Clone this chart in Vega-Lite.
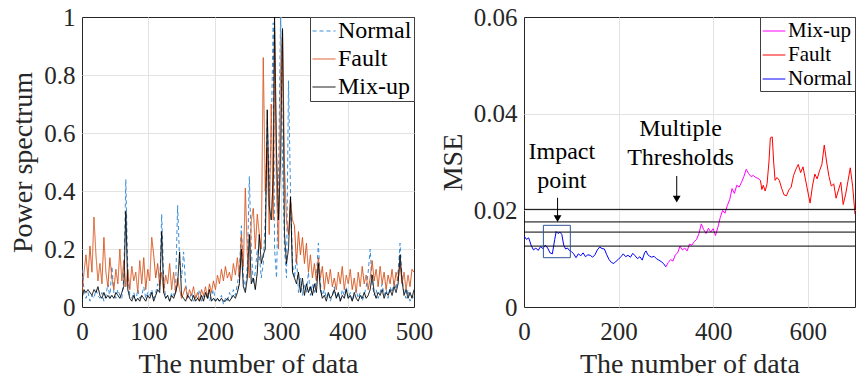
{
  "$schema": "https://vega.github.io/schema/vega-lite/v6.json",
  "background": "white",
  "padding": {"left": 9, "top": 4, "right": 0, "bottom": 0},
  "spacing": 4,
  "config": {
    "font": "Liberation Serif",
    "view": {"stroke": "#262626", "strokeWidth": 1},
    "axis": {
      "labelFont": "Liberation Serif",
      "titleFont": "Liberation Serif",
      "labelFontSize": 25,
      "titleFontSize": 28,
      "titleFontWeight": "normal",
      "labelColor": "#262626",
      "titleColor": "#262626",
      "domain": false,
      "ticks": false,
      "grid": true,
      "gridColor": "#e3e3e3",
      "gridWidth": 1,
      "labelFlush": false,
      "labelOverlap": false
    },
    "axisX": {"labelPadding": 12, "titlePadding": 6},
    "axisY": {"labelPadding": 7, "titlePadding": 6},
    "legend": {
      "labelFont": "Liberation Serif",
      "labelColor": "#000000",
      "strokeColor": "#404040",
      "fillColor": "white",
      "symbolType": "stroke",
      "symbolStrokeWidth": 1,
      "labelLimit": 300,
      "cornerRadius": 0
    }
  },
  "datasets": {
    "spec": [
      {"x":0,"Normal":0.13,"Fault":0.05,"Mix-up":0.03},
      {"x":3,"Normal":0.06,"Fault":0.12,"Mix-up":0.06},
      {"x":6,"Normal":0.03,"Fault":0.18,"Mix-up":0.05},
      {"x":9,"Normal":0.05,"Fault":0.10,"Mix-up":0.06},
      {"x":12,"Normal":0.02,"Fault":0.21,"Mix-up":0.05},
      {"x":15,"Normal":0.04,"Fault":0.12,"Mix-up":0.04},
      {"x":18,"Normal":0.03,"Fault":0.31,"Mix-up":0.06},
      {"x":21,"Normal":0.06,"Fault":0.18,"Mix-up":0.05},
      {"x":24,"Normal":0.04,"Fault":0.09,"Mix-up":0.07},
      {"x":27,"Normal":0.03,"Fault":0.15,"Mix-up":0.04},
      {"x":30,"Normal":0.05,"Fault":0.08,"Mix-up":0.03},
      {"x":33,"Normal":0.02,"Fault":0.24,"Mix-up":0.05},
      {"x":36,"Normal":0.04,"Fault":0.12,"Mix-up":0.03},
      {"x":39,"Normal":0.08,"Fault":0.07,"Mix-up":0.04},
      {"x":42,"Normal":0.03,"Fault":0.17,"Mix-up":0.03},
      {"x":45,"Normal":0.14,"Fault":0.10,"Mix-up":0.04},
      {"x":48,"Normal":0.05,"Fault":0.06,"Mix-up":0.03},
      {"x":51,"Normal":0.03,"Fault":0.13,"Mix-up":0.05},
      {"x":54,"Normal":0.06,"Fault":0.08,"Mix-up":0.04},
      {"x":57,"Normal":0.04,"Fault":0.20,"Mix-up":0.03},
      {"x":60,"Normal":0.03,"Fault":0.09,"Mix-up":0.05},
      {"x":63,"Normal":0.10,"Fault":0.16,"Mix-up":0.07},
      {"x":66,"Normal":0.44,"Fault":0.07,"Mix-up":0.33},
      {"x":69,"Normal":0.12,"Fault":0.13,"Mix-up":0.06},
      {"x":72,"Normal":0.04,"Fault":0.06,"Mix-up":0.03},
      {"x":75,"Normal":0.03,"Fault":0.14,"Mix-up":0.02},
      {"x":78,"Normal":0.05,"Fault":0.09,"Mix-up":0.04},
      {"x":81,"Normal":0.02,"Fault":0.12,"Mix-up":0.02},
      {"x":84,"Normal":0.06,"Fault":0.05,"Mix-up":0.03},
      {"x":87,"Normal":0.03,"Fault":0.16,"Mix-up":0.02},
      {"x":90,"Normal":0.04,"Fault":0.08,"Mix-up":0.04},
      {"x":93,"Normal":0.07,"Fault":0.17,"Mix-up":0.03},
      {"x":96,"Normal":0.03,"Fault":0.06,"Mix-up":0.02},
      {"x":99,"Normal":0.05,"Fault":0.13,"Mix-up":0.04},
      {"x":102,"Normal":0.04,"Fault":0.09,"Mix-up":0.03},
      {"x":105,"Normal":0.06,"Fault":0.24,"Mix-up":0.05},
      {"x":108,"Normal":0.03,"Fault":0.18,"Mix-up":0.02},
      {"x":111,"Normal":0.05,"Fault":0.10,"Mix-up":0.04},
      {"x":114,"Normal":0.08,"Fault":0.15,"Mix-up":0.06},
      {"x":117,"Normal":0.06,"Fault":0.07,"Mix-up":0.05},
      {"x":120,"Normal":0.32,"Fault":0.12,"Mix-up":0.26},
      {"x":123,"Normal":0.10,"Fault":0.05,"Mix-up":0.05},
      {"x":126,"Normal":0.03,"Fault":0.11,"Mix-up":0.03},
      {"x":129,"Normal":0.04,"Fault":0.08,"Mix-up":0.04},
      {"x":132,"Normal":0.02,"Fault":0.15,"Mix-up":0.02},
      {"x":135,"Normal":0.05,"Fault":0.06,"Mix-up":0.04},
      {"x":138,"Normal":0.04,"Fault":0.12,"Mix-up":0.03},
      {"x":141,"Normal":0.07,"Fault":0.05,"Mix-up":0.05},
      {"x":144,"Normal":0.35,"Fault":0.10,"Mix-up":0.08},
      {"x":147,"Normal":0.16,"Fault":0.06,"Mix-up":0.19},
      {"x":150,"Normal":0.10,"Fault":0.03,"Mix-up":0.04},
      {"x":153,"Normal":0.19,"Fault":0.05,"Mix-up":0.03},
      {"x":156,"Normal":0.08,"Fault":0.07,"Mix-up":0.02},
      {"x":159,"Normal":0.04,"Fault":0.03,"Mix-up":0.04},
      {"x":162,"Normal":0.03,"Fault":0.06,"Mix-up":0.03},
      {"x":165,"Normal":0.05,"Fault":0.04,"Mix-up":0.02},
      {"x":168,"Normal":0.02,"Fault":0.07,"Mix-up":0.04},
      {"x":171,"Normal":0.04,"Fault":0.03,"Mix-up":0.02},
      {"x":174,"Normal":0.03,"Fault":0.05,"Mix-up":0.03},
      {"x":177,"Normal":0.06,"Fault":0.02,"Mix-up":0.02},
      {"x":180,"Normal":0.02,"Fault":0.06,"Mix-up":0.04},
      {"x":183,"Normal":0.04,"Fault":0.04,"Mix-up":0.02},
      {"x":186,"Normal":0.03,"Fault":0.07,"Mix-up":0.05},
      {"x":189,"Normal":0.05,"Fault":0.03,"Mix-up":0.03},
      {"x":192,"Normal":0.02,"Fault":0.08,"Mix-up":0.06},
      {"x":195,"Normal":0.04,"Fault":0.05,"Mix-up":0.02},
      {"x":198,"Normal":0.06,"Fault":0.09,"Mix-up":0.03},
      {"x":201,"Normal":0.02,"Fault":0.06,"Mix-up":0.02},
      {"x":204,"Normal":0.03,"Fault":0.11,"Mix-up":0.03},
      {"x":207,"Normal":0.02,"Fault":0.08,"Mix-up":0.02},
      {"x":210,"Normal":0.04,"Fault":0.13,"Mix-up":0.03},
      {"x":213,"Normal":0.01,"Fault":0.09,"Mix-up":0.02},
      {"x":216,"Normal":0.03,"Fault":0.14,"Mix-up":0.02},
      {"x":219,"Normal":0.02,"Fault":0.10,"Mix-up":0.03},
      {"x":222,"Normal":0.05,"Fault":0.12,"Mix-up":0.02},
      {"x":225,"Normal":0.03,"Fault":0.09,"Mix-up":0.03},
      {"x":228,"Normal":0.06,"Fault":0.15,"Mix-up":0.04},
      {"x":231,"Normal":0.04,"Fault":0.11,"Mix-up":0.03},
      {"x":234,"Normal":0.08,"Fault":0.17,"Mix-up":0.05},
      {"x":237,"Normal":0.12,"Fault":0.10,"Mix-up":0.08},
      {"x":240,"Normal":0.28,"Fault":0.25,"Mix-up":0.20},
      {"x":243,"Normal":0.10,"Fault":0.14,"Mix-up":0.07},
      {"x":246,"Normal":0.06,"Fault":0.41,"Mix-up":0.05},
      {"x":249,"Normal":0.14,"Fault":0.18,"Mix-up":0.10},
      {"x":252,"Normal":0.45,"Fault":0.10,"Mix-up":0.25},
      {"x":255,"Normal":0.20,"Fault":0.30,"Mix-up":0.08},
      {"x":258,"Normal":0.08,"Fault":0.34,"Mix-up":0.10},
      {"x":261,"Normal":0.12,"Fault":0.20,"Mix-up":0.06},
      {"x":264,"Normal":0.20,"Fault":0.32,"Mix-up":0.12},
      {"x":267,"Normal":0.18,"Fault":0.25,"Mix-up":0.25},
      {"x":270,"Normal":0.10,"Fault":0.20,"Mix-up":0.15},
      {"x":273,"Normal":0.15,"Fault":0.86,"Mix-up":0.18},
      {"x":276,"Normal":0.30,"Fault":0.40,"Mix-up":0.20},
      {"x":279,"Normal":0.65,"Fault":0.55,"Mix-up":0.68},
      {"x":282,"Normal":0.40,"Fault":0.25,"Mix-up":0.35},
      {"x":285,"Normal":0.60,"Fault":0.70,"Mix-up":0.30},
      {"x":288,"Normal":0.98,"Fault":0.30,"Mix-up":0.45},
      {"x":290,"Normal":0.20,"Fault":0.95,"Mix-up":1.0},
      {"x":293,"Normal":0.10,"Fault":0.40,"Mix-up":0.53},
      {"x":296,"Normal":0.45,"Fault":0.20,"Mix-up":0.30},
      {"x":299,"Normal":1.0,"Fault":0.80,"Mix-up":0.50},
      {"x":302,"Normal":0.50,"Fault":0.95,"Mix-up":0.96},
      {"x":305,"Normal":0.20,"Fault":0.48,"Mix-up":0.25},
      {"x":308,"Normal":0.10,"Fault":0.30,"Mix-up":0.15},
      {"x":311,"Normal":0.78,"Fault":0.25,"Mix-up":0.20},
      {"x":314,"Normal":0.40,"Fault":0.37,"Mix-up":0.38},
      {"x":317,"Normal":0.15,"Fault":0.30,"Mix-up":0.12},
      {"x":320,"Normal":0.10,"Fault":0.28,"Mix-up":0.10},
      {"x":323,"Normal":0.18,"Fault":0.15,"Mix-up":0.08},
      {"x":326,"Normal":0.05,"Fault":0.26,"Mix-up":0.12},
      {"x":329,"Normal":0.10,"Fault":0.18,"Mix-up":0.05},
      {"x":332,"Normal":0.04,"Fault":0.24,"Mix-up":0.10},
      {"x":335,"Normal":0.08,"Fault":0.15,"Mix-up":0.04},
      {"x":338,"Normal":0.05,"Fault":0.22,"Mix-up":0.08},
      {"x":341,"Normal":0.12,"Fault":0.12,"Mix-up":0.05},
      {"x":344,"Normal":0.04,"Fault":0.18,"Mix-up":0.07},
      {"x":347,"Normal":0.08,"Fault":0.10,"Mix-up":0.04},
      {"x":350,"Normal":0.05,"Fault":0.15,"Mix-up":0.08},
      {"x":353,"Normal":0.10,"Fault":0.09,"Mix-up":0.05},
      {"x":356,"Normal":0.22,"Fault":0.17,"Mix-up":0.15},
      {"x":359,"Normal":0.08,"Fault":0.10,"Mix-up":0.06},
      {"x":362,"Normal":0.04,"Fault":0.14,"Mix-up":0.03},
      {"x":365,"Normal":0.06,"Fault":0.06,"Mix-up":0.04},
      {"x":368,"Normal":0.03,"Fault":0.12,"Mix-up":0.02},
      {"x":371,"Normal":0.05,"Fault":0.08,"Mix-up":0.05},
      {"x":374,"Normal":0.02,"Fault":0.13,"Mix-up":0.03},
      {"x":377,"Normal":0.04,"Fault":0.07,"Mix-up":0.04},
      {"x":380,"Normal":0.07,"Fault":0.10,"Mix-up":0.06},
      {"x":383,"Normal":0.03,"Fault":0.06,"Mix-up":0.03},
      {"x":386,"Normal":0.05,"Fault":0.12,"Mix-up":0.05},
      {"x":389,"Normal":0.02,"Fault":0.08,"Mix-up":0.02},
      {"x":392,"Normal":0.06,"Fault":0.14,"Mix-up":0.04},
      {"x":395,"Normal":0.04,"Fault":0.06,"Mix-up":0.03},
      {"x":398,"Normal":0.07,"Fault":0.11,"Mix-up":0.06},
      {"x":401,"Normal":0.03,"Fault":0.08,"Mix-up":0.03},
      {"x":404,"Normal":0.05,"Fault":0.13,"Mix-up":0.04},
      {"x":407,"Normal":0.02,"Fault":0.06,"Mix-up":0.02},
      {"x":410,"Normal":0.04,"Fault":0.10,"Mix-up":0.05},
      {"x":413,"Normal":0.06,"Fault":0.05,"Mix-up":0.03},
      {"x":416,"Normal":0.03,"Fault":0.12,"Mix-up":0.02},
      {"x":419,"Normal":0.05,"Fault":0.07,"Mix-up":0.04},
      {"x":422,"Normal":0.02,"Fault":0.14,"Mix-up":0.03},
      {"x":425,"Normal":0.04,"Fault":0.08,"Mix-up":0.05},
      {"x":428,"Normal":0.07,"Fault":0.11,"Mix-up":0.03},
      {"x":431,"Normal":0.12,"Fault":0.06,"Mix-up":0.04},
      {"x":434,"Normal":0.20,"Fault":0.10,"Mix-up":0.06},
      {"x":437,"Normal":0.08,"Fault":0.16,"Mix-up":0.11},
      {"x":440,"Normal":0.04,"Fault":0.09,"Mix-up":0.05},
      {"x":443,"Normal":0.06,"Fault":0.13,"Mix-up":0.03},
      {"x":446,"Normal":0.03,"Fault":0.07,"Mix-up":0.05},
      {"x":449,"Normal":0.05,"Fault":0.14,"Mix-up":0.04},
      {"x":452,"Normal":0.08,"Fault":0.08,"Mix-up":0.06},
      {"x":455,"Normal":0.04,"Fault":0.12,"Mix-up":0.03},
      {"x":458,"Normal":0.06,"Fault":0.06,"Mix-up":0.05},
      {"x":461,"Normal":0.03,"Fault":0.11,"Mix-up":0.04},
      {"x":464,"Normal":0.07,"Fault":0.08,"Mix-up":0.06},
      {"x":467,"Normal":0.05,"Fault":0.13,"Mix-up":0.04},
      {"x":470,"Normal":0.09,"Fault":0.07,"Mix-up":0.07},
      {"x":473,"Normal":0.06,"Fault":0.12,"Mix-up":0.05},
      {"x":476,"Normal":0.12,"Fault":0.09,"Mix-up":0.08},
      {"x":479,"Normal":0.22,"Fault":0.15,"Mix-up":0.18},
      {"x":482,"Normal":0.10,"Fault":0.08,"Mix-up":0.09},
      {"x":485,"Normal":0.05,"Fault":0.12,"Mix-up":0.04},
      {"x":488,"Normal":0.03,"Fault":0.06,"Mix-up":0.06},
      {"x":491,"Normal":0.06,"Fault":0.11,"Mix-up":0.03},
      {"x":494,"Normal":0.02,"Fault":0.07,"Mix-up":0.05},
      {"x":497,"Normal":0.04,"Fault":0.13,"Mix-up":0.03},
      {"x":500,"Normal":0.03,"Fault":0.12,"Mix-up":0.06}
    ],
    "mse": [
      {"x":0,"y":0.0147,"s":"Normal"},{"x":5,"y":0.0140,"s":"Normal"},{"x":10,"y":0.0143,"s":"Normal"},
      {"x":15,"y":0.0128,"s":"Normal"},{"x":20,"y":0.0118,"s":"Normal"},{"x":25,"y":0.0122,"s":"Normal"},
      {"x":30,"y":0.0117,"s":"Normal"},{"x":35,"y":0.0125,"s":"Normal"},{"x":40,"y":0.0121,"s":"Normal"},
      {"x":45,"y":0.0128,"s":"Normal"},{"x":50,"y":0.0122,"s":"Normal"},{"x":55,"y":0.0112,"s":"Normal"},
      {"x":60,"y":0.0110,"s":"Normal"},{"x":65,"y":0.0140,"s":"Normal"},{"x":68,"y":0.0156,"s":"Normal"},
      {"x":72,"y":0.0152,"s":"Normal"},{"x":76,"y":0.0155,"s":"Normal"},{"x":80,"y":0.0150,"s":"Normal"},
      {"x":84,"y":0.0128,"s":"Normal"},{"x":88,"y":0.0120,"s":"Normal"},{"x":92,"y":0.0122,"s":"Normal"},
      {"x":96,"y":0.0117,"s":"Normal"},{"x":100,"y":0.0115,"s":"Normal"},{"x":105,"y":0.0110,"s":"Normal"},
      {"x":110,"y":0.0102,"s":"Normal"},{"x":115,"y":0.0110,"s":"Normal"},{"x":120,"y":0.0106,"s":"Normal"},
      {"x":125,"y":0.0112,"s":"Normal"},{"x":130,"y":0.0104,"s":"Normal"},{"x":135,"y":0.0108,"s":"Normal"},
      {"x":140,"y":0.0107,"s":"Normal"},{"x":145,"y":0.0103,"s":"Normal"},{"x":150,"y":0.0108,"s":"Normal"},
      {"x":155,"y":0.0118,"s":"Normal"},{"x":160,"y":0.0124,"s":"Normal"},{"x":165,"y":0.0121,"s":"Normal"},
      {"x":170,"y":0.0120,"s":"Normal"},{"x":175,"y":0.0108,"s":"Normal"},{"x":180,"y":0.0098,"s":"Normal"},
      {"x":185,"y":0.0092,"s":"Normal"},{"x":190,"y":0.0090,"s":"Normal"},{"x":195,"y":0.0095,"s":"Normal"},
      {"x":200,"y":0.0099,"s":"Normal"},{"x":205,"y":0.0104,"s":"Normal"},{"x":210,"y":0.0110,"s":"Normal"},
      {"x":215,"y":0.0104,"s":"Normal"},{"x":220,"y":0.0107,"s":"Normal"},{"x":225,"y":0.0103,"s":"Normal"},
      {"x":230,"y":0.0111,"s":"Normal"},{"x":235,"y":0.0106,"s":"Normal"},{"x":240,"y":0.0100,"s":"Normal"},
      {"x":245,"y":0.0104,"s":"Normal"},{"x":250,"y":0.0097,"s":"Normal"},{"x":255,"y":0.0112,"s":"Normal"},
      {"x":258,"y":0.0116,"s":"Normal"},{"x":262,"y":0.0108,"s":"Normal"},{"x":266,"y":0.0105,"s":"Normal"},
      {"x":270,"y":0.0103,"s":"Normal"},{"x":275,"y":0.0105,"s":"Normal"},{"x":280,"y":0.0100,"s":"Normal"},
      {"x":285,"y":0.0097,"s":"Normal"},{"x":290,"y":0.0094,"s":"Normal"},{"x":295,"y":0.0090,"s":"Normal"},
      {"x":300,"y":0.0083,"s":"Normal"},
      {"x":300,"y":0.0083,"s":"Mix-up"},{"x":305,"y":0.0092,"s":"Mix-up"},{"x":310,"y":0.0098,"s":"Mix-up"},
      {"x":315,"y":0.0095,"s":"Mix-up"},{"x":320,"y":0.0108,"s":"Mix-up"},{"x":325,"y":0.0112,"s":"Mix-up"},
      {"x":330,"y":0.0126,"s":"Mix-up"},{"x":335,"y":0.0118,"s":"Mix-up"},{"x":340,"y":0.0122,"s":"Mix-up"},
      {"x":345,"y":0.0116,"s":"Mix-up"},{"x":350,"y":0.0130,"s":"Mix-up"},{"x":355,"y":0.0128,"s":"Mix-up"},
      {"x":360,"y":0.0135,"s":"Mix-up"},{"x":365,"y":0.0140,"s":"Mix-up"},{"x":370,"y":0.0152,"s":"Mix-up"},
      {"x":375,"y":0.0172,"s":"Mix-up"},{"x":380,"y":0.0160,"s":"Mix-up"},{"x":385,"y":0.0152,"s":"Mix-up"},
      {"x":390,"y":0.0163,"s":"Mix-up"},{"x":395,"y":0.0155,"s":"Mix-up"},{"x":400,"y":0.0162,"s":"Mix-up"},
      {"x":405,"y":0.0148,"s":"Mix-up"},{"x":410,"y":0.0165,"s":"Mix-up"},{"x":415,"y":0.0185,"s":"Mix-up"},
      {"x":420,"y":0.0200,"s":"Mix-up"},{"x":425,"y":0.0194,"s":"Mix-up"},{"x":430,"y":0.0210,"s":"Mix-up"},
      {"x":435,"y":0.0222,"s":"Mix-up"},{"x":440,"y":0.0245,"s":"Mix-up"},{"x":445,"y":0.0235,"s":"Mix-up"},
      {"x":450,"y":0.0252,"s":"Mix-up"},{"x":455,"y":0.0248,"s":"Mix-up"},{"x":460,"y":0.0258,"s":"Mix-up"},
      {"x":465,"y":0.0270,"s":"Mix-up"},{"x":470,"y":0.0285,"s":"Mix-up"},{"x":475,"y":0.0276,"s":"Mix-up"},
      {"x":480,"y":0.0270,"s":"Mix-up"},{"x":485,"y":0.0272,"s":"Mix-up"},{"x":490,"y":0.0268,"s":"Mix-up"},
      {"x":495,"y":0.0266,"s":"Mix-up"},{"x":500,"y":0.0262,"s":"Mix-up"},
      {"x":500,"y":0.0262,"s":"Fault"},{"x":503,"y":0.0243,"s":"Fault"},{"x":506,"y":0.0252,"s":"Fault"},
      {"x":510,"y":0.0240,"s":"Fault"},{"x":514,"y":0.0255,"s":"Fault"},{"x":518,"y":0.0300,"s":"Fault"},
      {"x":521,"y":0.0350,"s":"Fault"},{"x":525,"y":0.0352,"s":"Fault"},{"x":528,"y":0.0300,"s":"Fault"},
      {"x":531,"y":0.0262,"s":"Fault"},{"x":535,"y":0.0268,"s":"Fault"},{"x":540,"y":0.0262,"s":"Fault"},
      {"x":545,"y":0.0245,"s":"Fault"},{"x":550,"y":0.0232,"s":"Fault"},{"x":555,"y":0.0230,"s":"Fault"},
      {"x":560,"y":0.0242,"s":"Fault"},{"x":565,"y":0.0248,"s":"Fault"},{"x":570,"y":0.0272,"s":"Fault"},
      {"x":575,"y":0.0285,"s":"Fault"},{"x":580,"y":0.0295,"s":"Fault"},{"x":585,"y":0.0278,"s":"Fault"},
      {"x":590,"y":0.0290,"s":"Fault"},{"x":595,"y":0.0265,"s":"Fault"},{"x":600,"y":0.0240,"s":"Fault"},
      {"x":605,"y":0.0215,"s":"Fault"},{"x":610,"y":0.0250,"s":"Fault"},{"x":615,"y":0.0275,"s":"Fault"},
      {"x":620,"y":0.0265,"s":"Fault"},{"x":625,"y":0.0282,"s":"Fault"},{"x":630,"y":0.0295,"s":"Fault"},
      {"x":635,"y":0.0335,"s":"Fault"},{"x":640,"y":0.0300,"s":"Fault"},{"x":645,"y":0.0270,"s":"Fault"},
      {"x":650,"y":0.0250,"s":"Fault"},{"x":655,"y":0.0255,"s":"Fault"},{"x":660,"y":0.0225,"s":"Fault"},
      {"x":665,"y":0.0242,"s":"Fault"},{"x":670,"y":0.0258,"s":"Fault"},{"x":675,"y":0.0212,"s":"Fault"},
      {"x":680,"y":0.0232,"s":"Fault"},{"x":685,"y":0.0260,"s":"Fault"},{"x":690,"y":0.0288,"s":"Fault"},
      {"x":695,"y":0.0250,"s":"Fault"},{"x":700,"y":0.0192,"s":"Fault"}
    ],
    "thresholds": [{"y":0.0202},{"y":0.0176},{"y":0.0155},{"y":0.0126}],
    "box": [{"x":41,"x2":98,"y":0.0102,"y2":0.0169}],
    "arrows": [{"x":71,"y":0.0226,"y2":0.0186},{"x":323,"y":0.0271,"y2":0.0226}],
    "heads": [{"x":71,"y":0.0183},{"x":323,"y":0.0223}],
    "notes": [
      {"x":80,"y":0.03055,"label":"Impact"},
      {"x":80,"y":0.02469,"label":"point"},
      {"x":331,"y":0.03538,"label":"Multiple"},
      {"x":331,"y":0.02938,"label":"Thresholds"}
    ]
  },
  "hconcat": [
    {
      "width": 332,
      "height": 290,
      "view": {"stroke": "#262626", "strokeWidth": 1},
      "data": {"name": "spec"},
      "transform": [{"fold": ["Normal", "Fault", "Mix-up"], "as": ["series", "value"]}],
      "mark": {"type": "line", "strokeWidth": 1, "clip": true},
      "encoding": {
        "x": {"field": "x", "type": "quantitative", "scale": {"domain": [0, 500], "nice": false},
              "axis": {"values": [0, 100, 200, 300, 400, 500], "title": "The number of data",
                       "gridOpacity": {"condition": {"test": "datum.value === 0 || datum.value === 500", "value": 0}, "value": 1}}},
        "y": {"field": "value", "type": "quantitative", "scale": {"domain": [0, 1], "nice": false},
              "axis": {"values": [0, 0.2, 0.4, 0.6, 0.8, 1], "format": "~g", "title": "Power spectrum",
                       "gridOpacity": {"condition": {"test": "datum.value === 0 || datum.value === 1", "value": 0}, "value": 1}}},
        "color": {"field": "series", "type": "nominal",
                  "scale": {"domain": ["Normal", "Fault", "Mix-up"], "range": ["#3a8ed8", "#d95319", "#000000"]},
                  "legend": {"title": null, "orient": "top-right", "offset": 0, "padding": 2, "labelFontSize": 24,
                             "symbolSize": 529, "rowPadding": 4, "labelOffset": 2}},
        "strokeDash": {"field": "series", "type": "nominal",
                       "scale": {"domain": ["Normal", "Fault", "Mix-up"], "range": [[4, 3], [1, 0], [1, 0]]},
                       "legend": {"title": null, "orient": "top-right", "offset": 0, "padding": 2, "labelFontSize": 24,
                                  "symbolSize": 529, "rowPadding": 4, "labelOffset": 2}}
      }
    },
    {
      "width": 331,
      "height": 290,
      "view": {"stroke": "#262626", "strokeWidth": 1},
      "encoding": {
        "y": {"field": "y", "type": "quantitative", "scale": {"domain": [0, 0.06], "nice": false},
              "axis": {"values": [0, 0.02, 0.04, 0.06], "format": "~g", "title": "MSE",
                       "gridOpacity": {"condition": {"test": "datum.value === 0 || datum.value === 0.06", "value": 0}, "value": 1}}}
      },
      "layer": [
        {
          "data": {"name": "mse"},
          "mark": {"type": "line", "strokeWidth": 1, "clip": true},
          "encoding": {
            "x": {"field": "x", "type": "quantitative", "scale": {"domain": [0, 700], "nice": false},
                  "axis": {"values": [0, 200, 400, 600], "title": "The number of data",
                           "gridOpacity": {"condition": {"test": "datum.value === 0", "value": 0}, "value": 1}}},
            "color": {"field": "s", "type": "nominal",
                      "scale": {"domain": ["Mix-up", "Fault", "Normal"], "range": ["#ff00ff", "#ff0000", "#0000ff"]},
                      "legend": {"title": null, "orient": "top-right", "offset": 0, "padding": 2, "labelFontSize": 21,
                                 "symbolSize": 515, "rowPadding": 2, "labelOffset": 2}}
          }
        },
        {
          "data": {"name": "thresholds"},
          "mark": {"type": "rule", "color": "#000000", "strokeWidth": 1},
          "encoding": {}
        },
        {
          "data": {"name": "box"},
          "mark": {"type": "rect", "filled": false, "stroke": "#30549a", "strokeWidth": 1},
          "encoding": {
            "x": {"field": "x", "type": "quantitative", "scale": {"domain": [0, 700], "nice": false},
                  "axis": {"values": [0, 200, 400, 600], "title": "The number of data",
                           "gridOpacity": {"condition": {"test": "datum.value === 0", "value": 0}, "value": 1}}},
            "x2": {"field": "x2"},
            "y2": {"field": "y2"}
          }
        },
        {
          "data": {"name": "arrows"},
          "mark": {"type": "rule", "color": "#000000", "strokeWidth": 1},
          "encoding": {
            "x": {"field": "x", "type": "quantitative", "scale": {"domain": [0, 700], "nice": false},
                  "axis": {"values": [0, 200, 400, 600], "title": "The number of data",
                           "gridOpacity": {"condition": {"test": "datum.value === 0", "value": 0}, "value": 1}}},
            "y2": {"field": "y2"}
          }
        },
        {
          "data": {"name": "heads"},
          "mark": {"type": "point", "shape": "triangle-down", "filled": true, "color": "#000000", "size": 60, "opacity": 1},
          "encoding": {
            "x": {"field": "x", "type": "quantitative", "scale": {"domain": [0, 700], "nice": false},
                  "axis": {"values": [0, 200, 400, 600], "title": "The number of data",
                           "gridOpacity": {"condition": {"test": "datum.value === 0", "value": 0}, "value": 1}}}
          }
        },
        {
          "data": {"name": "notes"},
          "mark": {"type": "text", "font": "Liberation Serif", "fontSize": 24, "align": "center", "baseline": "alphabetic", "color": "#000000"},
          "encoding": {
            "x": {"field": "x", "type": "quantitative", "scale": {"domain": [0, 700], "nice": false},
                  "axis": {"values": [0, 200, 400, 600], "title": "The number of data",
                           "gridOpacity": {"condition": {"test": "datum.value === 0", "value": 0}, "value": 1}}},
            "text": {"field": "label"}
          }
        }
      ]
    }
  ],
  "resolve": {"scale": {"color": "independent", "strokeDash": "independent"}, "legend": {"color": "independent", "strokeDash": "independent"}}
}
